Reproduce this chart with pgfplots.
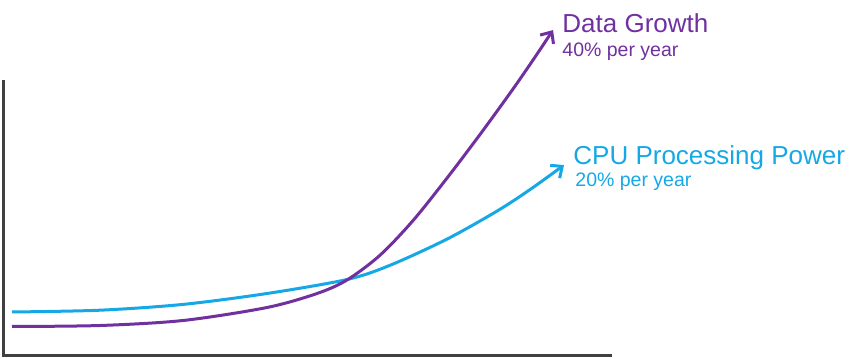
\documentclass[border=0pt]{standalone}
\usepackage{pgfplots}
\pgfplotsset{compat=1.18}
\usepackage{fontspec}
\setmainfont{Liberation Sans}
\usetikzlibrary{arrows.meta}
\definecolor{dgpurple}{RGB}{112,48,160}
\definecolor{cpublue}{RGB}{22,168,230}
\definecolor{axgray}{RGB}{64,64,64}
\begin{document}
\begin{tikzpicture}
\begin{axis}[
  scale only axis, width=432.5pt, height=179pt,
  xmin=0, xmax=865, ymin=0, ymax=358,
  hide axis, clip=false,
]
\path (axis cs:0,0) rectangle (axis cs:865,358);
\draw[axgray, line width=1.5pt] (axis cs:3,278) -- (axis cs:3,3) -- (axis cs:612,3);
\addplot[cpublue, line width=1.5pt, smooth, -{Straight Barb[length=4.5pt,width=8pt]}] coordinates {
(12,46) (100,47.8) (183,53.6) (267,64.5) (347,78.5) (390,92.7) (447,118.9) (497,146.9) (530,168.4) (564,192.9)
};
\addplot[dgpurple, line width=1.5pt, smooth, -{Straight Barb[length=4.5pt,width=8pt]}] coordinates {
(12,31.5) (100,32.5) (183,37.5) (267,50.5) (317,64.5) (347,78) (380,102.75) (413,137.4) (447,179.9) (480,223.5) (513,269) (535,300.9) (553,327.9)
};
\node[anchor=base west, text=dgpurple, font=\fontsize{13pt}{15pt}\selectfont, inner sep=0pt] at (axis cs:562,325) {Data Growth};
\node[anchor=base west, text=dgpurple, font=\fontsize{9.75pt}{11pt}\selectfont, inner sep=0pt] at (axis cs:562,301) {40\% per year};
\node[anchor=base west, text=cpublue, font=\fontsize{13pt}{15pt}\selectfont, inner sep=0pt] at (axis cs:573,193) {CPU Processing Power};
\node[anchor=base west, text=cpublue, font=\fontsize{9.75pt}{11pt}\selectfont, inner sep=0pt] at (axis cs:575,171) {20\% per year};
\end{axis}
\end{tikzpicture}
\end{document}
